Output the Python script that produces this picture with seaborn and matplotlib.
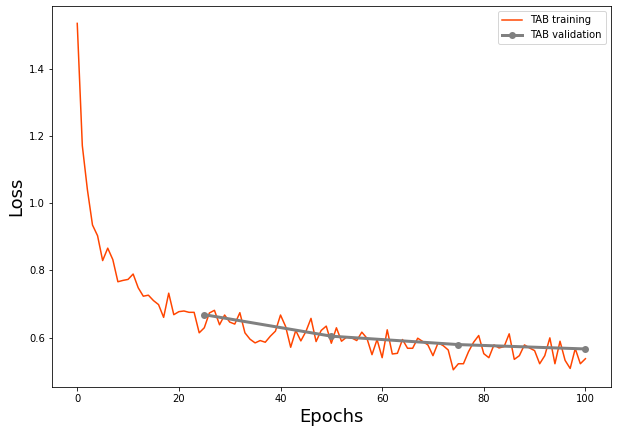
import matplotlib
matplotlib.use("Agg")
import matplotlib.pyplot as plt
import seaborn as sns

# Loss de treino por época (0..100)
train_epochs = list(range(101))
train_loss = [
    1.535, 1.171, 1.040, 0.935, 0.903, 0.829, 0.866, 0.832, 0.766, 0.770,
    0.773, 0.789, 0.748, 0.723, 0.726, 0.710, 0.698, 0.660, 0.732, 0.668,
    0.677, 0.679, 0.675, 0.675, 0.614, 0.629, 0.673, 0.681, 0.638, 0.667,
    0.646, 0.640, 0.674, 0.614, 0.595, 0.584, 0.591, 0.586, 0.604, 0.619,
    0.667, 0.633, 0.571, 0.621, 0.590, 0.618, 0.657, 0.588, 0.621, 0.634,
    0.583, 0.629, 0.589, 0.601, 0.599, 0.591, 0.616, 0.598, 0.549, 0.594,
    0.540, 0.623, 0.551, 0.553, 0.594, 0.568, 0.568, 0.598, 0.588, 0.578,
    0.546, 0.584, 0.576, 0.563, 0.504, 0.522, 0.522, 0.558, 0.586, 0.606,
    0.552, 0.540, 0.578, 0.569, 0.573, 0.611, 0.535, 0.546, 0.578, 0.569,
    0.561, 0.522, 0.546, 0.599, 0.522, 0.589, 0.532, 0.508, 0.567, 0.522,
    0.537,
]

# Loss de validação
val_epochs = [25, 50, 75, 100]
val_loss = [0.668, 0.604, 0.579, 0.566]

fig, ax = plt.subplots(figsize=(617 / 72, 433 / 72), dpi=72)
fig.subplots_adjust(left=0.084, right=0.990, top=0.986, bottom=0.106)

sns.lineplot(x=train_epochs, y=train_loss, ax=ax, color="orangered",
             linewidth=1.5, label="TAB training")
sns.lineplot(x=val_epochs, y=val_loss, ax=ax, color="gray", linewidth=3,
             marker="o", markersize=7, markeredgewidth=0, label="TAB validation")

ax.set_xlabel("Epochs", fontsize=18)
ax.set_ylabel("Loss", fontsize=18)
ax.legend(loc="upper right", fontsize=10)

fig.savefig("out.png", dpi=72)
